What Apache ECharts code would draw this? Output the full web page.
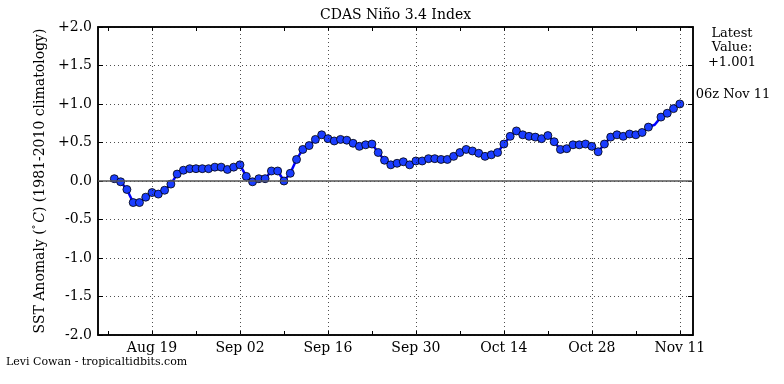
<!DOCTYPE html>
<html>
<head>
<meta charset="utf-8">
<script src="https://cdn.jsdelivr.net/npm/echarts@6/dist/echarts.min.js"></script>
<style>html,body{margin:0;padding:0;background:#fff}#c{width:784px;height:384px}</style>
</head>
<body>
<div id="c"></div>
<script>
// Day index 0 = Aug 13 (daily values, last = Nov 11)
const anomaly = [
  0.03, -0.01, -0.11, -0.28, -0.28, -0.21, -0.15, -0.17, -0.12, -0.04,
  0.09, 0.14, 0.16, 0.16, 0.16, 0.16, 0.18, 0.18, 0.15, 0.18,
  0.21, 0.06, -0.01, 0.03, 0.03, 0.13, 0.13, 0.00, 0.10, 0.28,
  0.41, 0.46, 0.54, 0.60, 0.55, 0.52, 0.54, 0.53, 0.49, 0.45,
  0.47, 0.48, 0.37, 0.27, 0.21, 0.23, 0.25, 0.21, 0.26, 0.26,
  0.29, 0.29, 0.28, 0.28, 0.32, 0.37, 0.41, 0.39, 0.36, 0.32,
  0.34, 0.37, 0.48, 0.58, 0.65, 0.60, 0.58, 0.57, 0.55, 0.59,
  0.51, 0.41, 0.42, 0.47, 0.47, 0.48, 0.45, 0.38, 0.48, 0.57,
  0.60, 0.58, 0.61, 0.60, 0.63, 0.70, 0.73, 0.83, 0.88, 0.94,
  1.001
];
const noMarkerDays = [86];
const xTickDays = [6, 20, 34, 48, 62, 76, 90];
const xTickLabels = ['Aug 19', 'Sep 02', 'Sep 16', 'Sep 30', 'Oct 14', 'Oct 28', 'Nov 11'];
const xMinorDays = [-1, 6, 13, 20, 27, 34, 41, 48, 55, 62, 69, 76, 83, 90];
const xMin = -2.6, xMax = 92.1;
const latestLabel = '06z Nov 11';

const FONT = 'DejaVu Serif';
const pts = anomaly.map((v, i) => noMarkerDays.includes(i)
  ? { value: [i, v], symbol: 'none' }
  : { value: [i, v] });

const chart = echarts.init(document.getElementById('c'), null, { renderer: 'canvas' });
const fmtY = v => (v > 0 ? '+' : '') + v.toFixed(1);
const gridDash = { color: '#222', width: 0.8, type: [1, 3] };

const xBase = {
  type: 'value', min: xMin, max: xMax,
  axisLine: { show: true, onZero: false, lineStyle: { color: '#000', width: 1.5 } },
  axisTick: { show: true, inside: true, length: 4, customValues: xMinorDays, lineStyle: { color: '#000' } },
  splitLine: { show: false }
};
const yBase = {
  type: 'value', min: -2, max: 2, interval: 0.5,
  axisLine: { show: true, onZero: false, lineStyle: { color: '#000', width: 1.5 } },
  axisTick: { show: true, inside: true, length: 5, lineStyle: { color: '#000' } }
};

chart.setOption({
  animation: false,
  backgroundColor: '#fff',
  grid: { left: 98, right: 91, top: 27, bottom: 49, containLabel: false,
          show: true, borderColor: '#000', borderWidth: 1.5, backgroundColor: 'transparent' },
  xAxis: [
    Object.assign({}, xBase, {
      position: 'bottom',
      axisLabel: {
        show: true, customValues: xTickDays, margin: 6,
        fontFamily: FONT, fontSize: 14, color: '#000',
        formatter: v => { const k = xTickDays.indexOf(Math.round(v)); return k >= 0 ? xTickLabels[k] : ''; }
      }
    }),
    Object.assign({}, xBase, { position: 'top', axisLabel: { show: false } })
  ],
  yAxis: [
    Object.assign({}, yBase, {
      position: 'left',
      name: 'SST Anomaly ({s|°}{i|C}) (1981-2010 climatology)',
      nameLocation: 'middle', nameRotate: 90, nameGap: 40,
      nameTextStyle: {
        fontFamily: FONT, fontSize: 14, color: '#000',
        rich: {
          s: { fontFamily: FONT, fontSize: 9, color: '#000', verticalAlign: 'top', padding: [0, 2, 6, 0] },
          i: { fontFamily: FONT, fontSize: 14, fontStyle: 'italic', color: '#000' }
        }
      },
      axisLabel: { fontFamily: FONT, fontSize: 14, color: '#000', margin: 6, formatter: fmtY },
      splitLine: { show: true, lineStyle: gridDash }
    }),
    Object.assign({}, yBase, {
      position: 'right',
      axisLabel: { show: false },
      splitLine: { show: false }
    })
  ],
  series: [
    {
      type: 'line', xAxisIndex: 0, yAxisIndex: 0, z: 1,
      data: anomaly.map((v, i) => [i, v]),
      showSymbol: false, lineStyle: { opacity: 0 }, silent: true,
      markLine: {
        silent: true, symbol: 'none', label: { show: false },
        data: xTickDays.map(d => ({ xAxis: d, lineStyle: gridDash }))
          .concat([{ yAxis: 0, lineStyle: { color: '#555', width: 1.5, type: 'solid' } }])
      }
    },
    {
      type: 'line', xAxisIndex: 0, yAxisIndex: 0, z: 3,
      data: pts,
      symbol: 'circle', symbolSize: 8, showAllSymbol: true,
      lineStyle: { color: '#0000ff', width: 2.5 },
      itemStyle: { color: '#1a3dff', borderColor: '#000', borderWidth: 0.8 }
    }
  ],
  graphic: [
    { type: 'text', x: 395.5, y: 8, style: { text: 'CDAS Niño 3.4 Index', fontFamily: FONT, fontSize: 14, fill: '#000', align: 'center' } },
    { type: 'text', x: 732, y: 26, style: { text: 'Latest\nValue:\n+' + anomaly[anomaly.length - 1].toFixed(3), fontFamily: FONT, fontSize: 13, lineHeight: 14.5, fill: '#000', align: 'center' } },
    { type: 'text', x: 733, y: 88, style: { text: latestLabel, fontFamily: FONT, fontSize: 13, fill: '#000', align: 'center' } },
    { type: 'text', x: 6, y: 357, style: { text: 'Levi Cowan - tropicaltidbits.com', fontFamily: FONT, fontSize: 11, fill: '#000' } }
  ]
});
</script>
</body>
</html>
